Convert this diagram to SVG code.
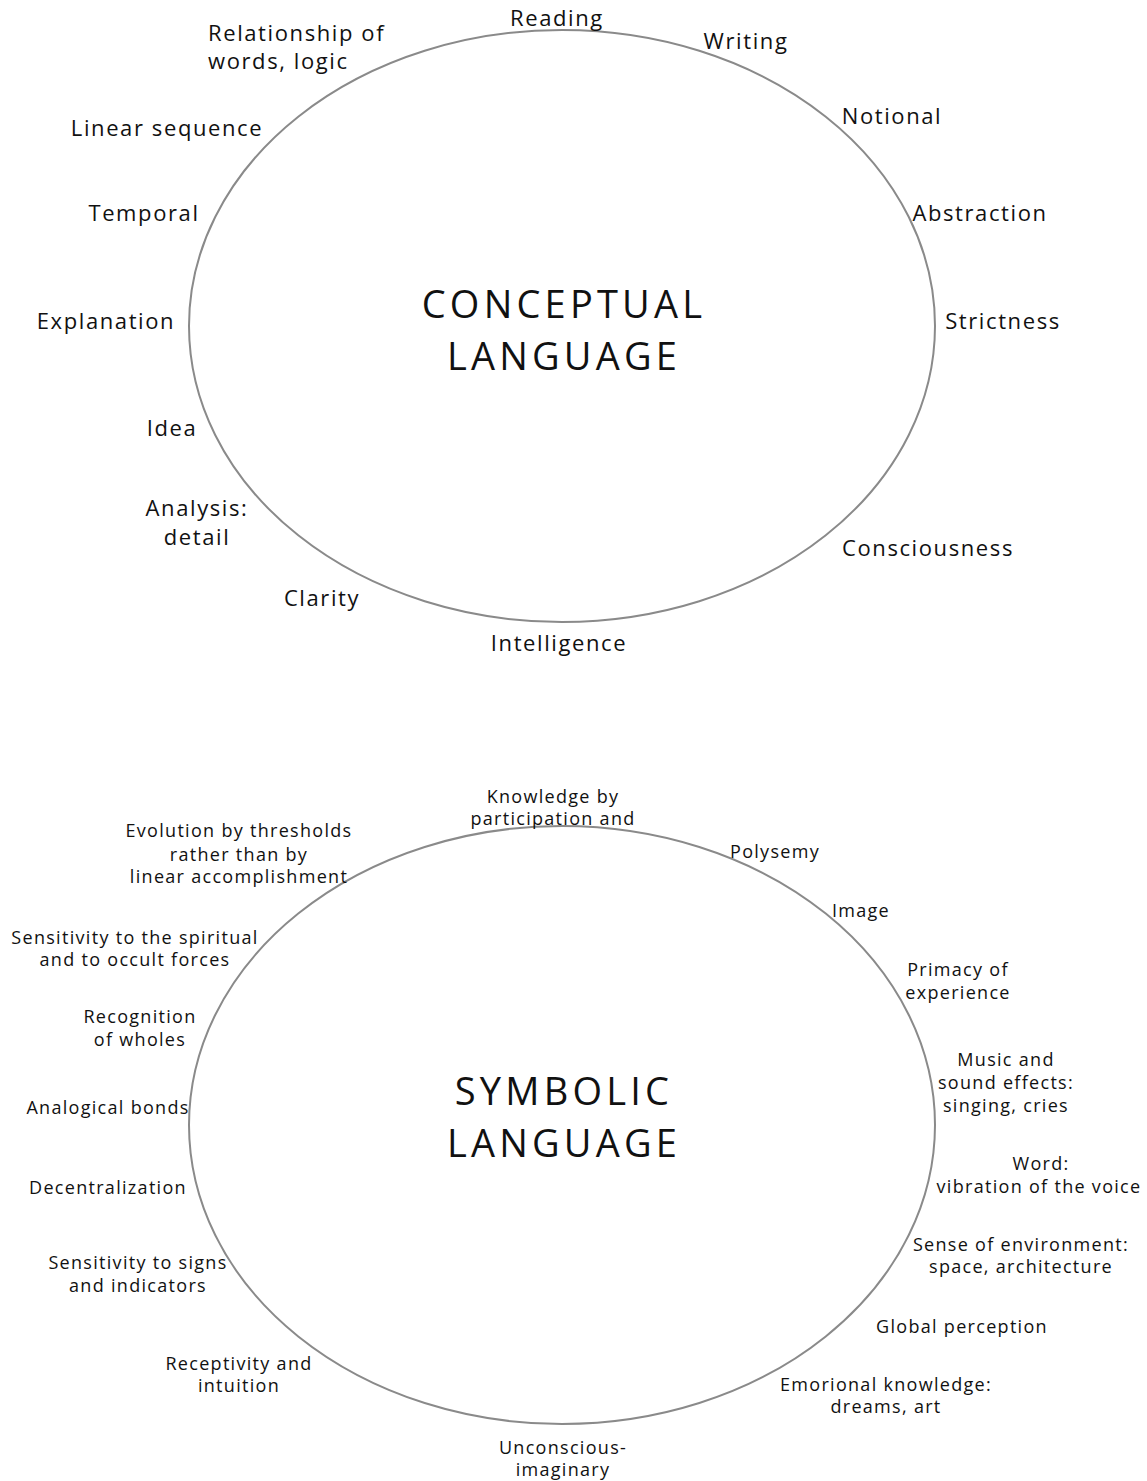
<svg xmlns="http://www.w3.org/2000/svg" width="1147" height="1481" viewBox="0 0 1147 1481">
<style>
text{font-family:"Open Sans","Noto Sans","DejaVu Sans",sans-serif;fill:#111;text-anchor:middle}
.t{font-size:22px;letter-spacing:1.6px}
.b{font-size:18px;letter-spacing:1.3px}
.h{font-size:38px;letter-spacing:4.2px}
.e{fill:none;stroke:#8a8a8a;stroke-width:2}
</style>
<rect width="1147" height="1481" fill="#fff"/>
<g id="conceptual">
<ellipse class="e" cx="562" cy="326" rx="373" ry="296"/>
<text class="h" x="564" y="318">CONCEPTUAL</text>
<text class="h" x="564" y="370">LANGUAGE</text>
</g>
<g id="c-reading"><text class="t" x="557" y="26">Reading</text></g>
<g id="c-writing"><text class="t" x="746" y="49">Writing</text></g>
<g id="c-relationship"><text class="t" x="208" y="41" style="text-anchor:start">Relationship of</text><text class="t" x="208" y="69" style="text-anchor:start">words, logic</text></g>
<g id="c-notional"><text class="t" x="892" y="124">Notional</text></g>
<g id="c-linear"><text class="t" x="167" y="136">Linear sequence</text></g>
<g id="c-abstraction"><text class="t" x="980" y="221">Abstraction</text></g>
<g id="c-temporal"><text class="t" x="144" y="221">Temporal</text></g>
<g id="c-explanation"><text class="t" x="106" y="329">Explanation</text></g>
<g id="c-strictness"><text class="t" x="1003" y="329">Strictness</text></g>
<g id="c-idea"><text class="t" x="172" y="436">Idea</text></g>
<g id="c-analysis"><text class="t" x="197" y="516">Analysis:</text><text class="t" x="197" y="545">detail</text></g>
<g id="c-consciousness"><text class="t" x="928" y="556">Consciousness</text></g>
<g id="c-clarity"><text class="t" x="322" y="606">Clarity</text></g>
<g id="c-intelligence"><text class="t" x="559" y="651">Intelligence</text></g>

<g id="symbolic">
<ellipse class="e" cx="562" cy="1125" rx="373" ry="299"/>
<text class="h" x="564" y="1105">SYMBOLIC</text>
<text class="h" x="564" y="1157">LANGUAGE</text>
</g>
<g id="s-knowledge"><text class="b" x="553" y="803">Knowledge by</text><text class="b" x="553" y="825">participation and</text></g>
<g id="s-evolution"><text class="b" x="239" y="837">Evolution by thresholds</text><text class="b" x="239" y="861">rather than by</text><text class="b" x="239" y="883">linear accomplishment</text></g>
<g id="s-polysemy"><text class="b" x="775" y="858">Polysemy</text></g>
<g id="s-image"><text class="b" x="861" y="917">Image</text></g>
<g id="s-spiritual"><text class="b" x="135" y="944">Sensitivity to the spiritual</text><text class="b" x="135" y="966">and to occult forces</text></g>
<g id="s-primacy"><text class="b" x="958" y="976">Primacy of</text><text class="b" x="958" y="999">experience</text></g>
<g id="s-recognition"><text class="b" x="140" y="1023">Recognition</text><text class="b" x="140" y="1046">of wholes</text></g>
<g id="s-music"><text class="b" x="1006" y="1066">Music and</text><text class="b" x="1006" y="1089">sound effects:</text><text class="b" x="1006" y="1112">singing, cries</text></g>
<g id="s-analogical"><text class="b" x="108" y="1114">Analogical bonds</text></g>
<g id="s-decentralization"><text class="b" x="108" y="1194">Decentralization</text></g>
<g id="s-word"><text class="b" x="1041" y="1170">Word:</text><text class="b" x="1039" y="1193">vibration of the voice</text></g>
<g id="s-environment"><text class="b" x="1021" y="1251">Sense of environment:</text><text class="b" x="1021" y="1273">space, architecture</text></g>
<g id="s-signs"><text class="b" x="138" y="1269">Sensitivity to signs</text><text class="b" x="138" y="1292">and indicators</text></g>
<g id="s-global"><text class="b" x="962" y="1333">Global perception</text></g>
<g id="s-receptivity"><text class="b" x="239" y="1370">Receptivity and</text><text class="b" x="239" y="1392">intuition</text></g>
<g id="s-emotional"><text class="b" x="886" y="1391">Emorional knowledge:</text><text class="b" x="886" y="1413">dreams, art</text></g>
<g id="s-unconscious"><text class="b" x="563" y="1454">Unconscious-</text><text class="b" x="563" y="1476">imaginary</text></g>
<g id="connectors"></g>
</svg>
